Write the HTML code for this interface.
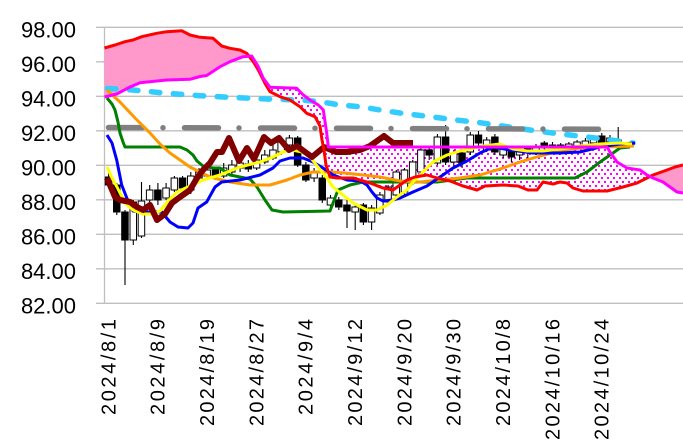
<!DOCTYPE html>
<html><head><meta charset="utf-8"><style>html,body{margin:0;padding:0;background:#fff;}svg{display:block;}</style></head>
<body>
<svg width="683" height="444" viewBox="0 0 683 444" xmlns="http://www.w3.org/2000/svg">
<defs>
<pattern id="dots" width="6" height="8" patternUnits="userSpaceOnUse"><rect width="6" height="8" fill="#fff"/><rect x="1" y="1" width="2" height="2" fill="#ff00ff"/><rect x="4" y="5" width="2" height="2" fill="#ff00ff"/></pattern>
<clipPath id="cpPink"><rect x="104" y="0" width="145" height="444"/><rect x="650" y="0" width="40" height="444"/></clipPath>
<clipPath id="cpDot"><rect x="249" y="0" width="401" height="444"/></clipPath>
</defs>
<rect width="683" height="444" fill="#fff"/>
<!-- gridlines -->
<g stroke="#bfbfbf" stroke-width="1.3">
<line x1="96" y1="27.3" x2="683" y2="27.3"/>
<line x1="96" y1="61.8" x2="683" y2="61.8"/>
<line x1="96" y1="96.3" x2="683" y2="96.3"/>
<line x1="96" y1="130.8" x2="683" y2="130.8"/>
<line x1="96" y1="165.3" x2="683" y2="165.3"/>
<line x1="96" y1="199.8" x2="683" y2="199.8"/>
<line x1="96" y1="234.3" x2="683" y2="234.3"/>
<line x1="96" y1="268.8" x2="683" y2="268.8"/>
<line x1="96" y1="303.3" x2="683" y2="303.3"/>
<line x1="104.5" y1="27.3" x2="104.5" y2="303.3"/>
</g>
<!-- y labels -->
<g font-family="Liberation Sans, Arial, sans-serif" font-size="22" fill="#000" text-anchor="end">
<text x="76" y="37.3">98.00</text>
<text x="76" y="71.8">96.00</text>
<text x="76" y="106.3">94.00</text>
<text x="76" y="140.8">92.00</text>
<text x="76" y="175.3">90.00</text>
<text x="76" y="209.8">88.00</text>
<text x="76" y="244.3">86.00</text>
<text x="76" y="278.8">84.00</text>
<text x="76" y="313.3">82.00</text>
</g>
<!-- x labels -->
<g font-family="Liberation Sans, Arial, sans-serif" font-size="20" fill="#000" text-anchor="end">
<text transform="translate(108.2,319) rotate(-90)" y="7.2" textLength="96" lengthAdjust="spacing">2024/8/1</text>
<text transform="translate(157.5,319) rotate(-90)" y="7.2" textLength="96" lengthAdjust="spacing">2024/8/9</text>
<text transform="translate(206.8,319) rotate(-90)" y="7.2" textLength="107" lengthAdjust="spacing">2024/8/19</text>
<text transform="translate(256.2,319) rotate(-90)" y="7.2" textLength="107" lengthAdjust="spacing">2024/8/27</text>
<text transform="translate(305.5,319) rotate(-90)" y="7.2" textLength="96" lengthAdjust="spacing">2024/9/4</text>
<text transform="translate(354.8,319) rotate(-90)" y="7.2" textLength="107" lengthAdjust="spacing">2024/9/12</text>
<text transform="translate(404.1,319) rotate(-90)" y="7.2" textLength="107" lengthAdjust="spacing">2024/9/20</text>
<text transform="translate(453.4,319) rotate(-90)" y="7.2" textLength="107" lengthAdjust="spacing">2024/9/30</text>
<text transform="translate(502.8,319) rotate(-90)" y="7.2" textLength="107" lengthAdjust="spacing">2024/10/8</text>
<text transform="translate(552.1,319) rotate(-90)" y="7.2" textLength="121" lengthAdjust="spacing">2024/10/16</text>
<text transform="translate(601.4,319) rotate(-90)" y="7.2" textLength="121" lengthAdjust="spacing">2024/10/24</text>
</g>
<!-- cloud fills -->
<g>
<polygon clip-path="url(#cpPink)" fill="#ff99cc" points="104.5,48 115,45 125,41.7 133,40 141.7,36.7 156.7,33.3 166.7,31.7 181.7,30.7 190,35 200,37.3 213,38.3 221.7,46 230,48.3 240,50 246.7,53.3 253.3,61.7 258.3,70 265,83.3 270,91.7 280,96.7 290,100 300,106.7 306.7,113.3 315,116.7 320,126 322,140 324,150 326,165 330,177 337,178 353,178 370,183 383,188 393,190 400,185 407,180 415,177 427,175 437,178 450,181 463,186 477,190 485,186 503,185 518,186 528,190 537,190 543,182 553,184 560,182 567,183 573,188 583,191 607,191 623,187 637,183 643,180 653,175 667,170 675,167 683,165 683,193 677,192 670,187 663,182 653,178 647,175 640,170 627,168 617,162 610,152 607,147 480,147 340,147 328.3,147 326.7,133 323.3,110 318.3,105 310,100 303.3,95 296.7,88.3 270,87.3 263.3,78.3 258.3,66.7 251.7,56 243,56.7 230,61.7 220,66.7 206.7,75.5 200,76.5 190,79.3 166.7,80 140,82.7 130,87 116.7,94 104.5,97"/>
<polygon clip-path="url(#cpDot)" fill="url(#dots)" points="104.5,48 115,45 125,41.7 133,40 141.7,36.7 156.7,33.3 166.7,31.7 181.7,30.7 190,35 200,37.3 213,38.3 221.7,46 230,48.3 240,50 246.7,53.3 253.3,61.7 258.3,70 265,83.3 270,91.7 280,96.7 290,100 300,106.7 306.7,113.3 315,116.7 320,126 322,140 324,150 326,165 330,177 337,178 353,178 370,183 383,188 393,190 400,185 407,180 415,177 427,175 437,178 450,181 463,186 477,190 485,186 503,185 518,186 528,190 537,190 543,182 553,184 560,182 567,183 573,188 583,191 607,191 623,187 637,183 643,180 653,175 667,170 675,167 683,165 683,193 677,192 670,187 663,182 653,178 647,175 640,170 627,168 617,162 610,152 607,147 480,147 340,147 328.3,147 326.7,133 323.3,110 318.3,105 310,100 303.3,95 296.7,88.3 270,87.3 263.3,78.3 258.3,66.7 251.7,56 243,56.7 230,61.7 220,66.7 206.7,75.5 200,76.5 190,79.3 166.7,80 140,82.7 130,87 116.7,94 104.5,97"/>
</g>
<!-- candle wicks -->
<path fill="none" stroke="#000" stroke-width="1.1" d="M108.6 173V188M116.8 183V215M125 210V285M133.3 200V245M141.5 182V238M149.7 185V203M157.9 183V205M166.1 183V200M174.4 176V192M182.6 176V190M190.8 172V194M199 168V180M207.2 166V178M215.5 167V180M223.7 163V178M231.9 160V175M240.1 158V172M248.3 160V172M256.6 156V170M264.8 150V164M273 144V160M281.2 138V155M289.4 135V148M297.7 136V167M305.9 162V182M314.1 168V182M322.3 175V203M330.5 195V208M338.8 197V210M347 200V228M355.2 204V230M363.4 203V225M371.6 205V230M379.9 192V215M388.1 185V205M396.3 170V200M404.5 168V195M412.7 160V185M420.9 148V175M429.2 146V160M437.4 134V165M445.6 125V165M453.8 150V168M462.1 150V168M470.3 132V155M478.5 131V148M486.7 137V152M494.9 134V155M503.2 145V158M511.4 148V162M519.6 148V160M527.8 146V158M536 144V155M544.3 141V150M552.5 142V152M560.7 143V150M568.9 142V150M577.1 140V148M585.4 138V148M593.6 136V146M601.8 133V146M610 135V145M618.2 127V150"/>
<!-- candle bodies -->
<g stroke="#000" stroke-width="1">
<rect x="105.3" y="177" width="6.5" height="8" fill="#000"/>
<rect x="113.5" y="185" width="6.5" height="27" fill="#000"/>
<rect x="121.7" y="212" width="6.5" height="28" fill="#000"/>
<rect x="130" y="202" width="6.5" height="38" fill="#fff"/>
<rect x="138.2" y="201" width="6.5" height="35" fill="#fff"/>
<rect x="146.4" y="190" width="6.5" height="10" fill="#fff"/>
<rect x="154.6" y="190" width="6.5" height="10" fill="#000"/>
<rect x="162.8" y="188" width="6.5" height="10" fill="#fff"/>
<rect x="171.1" y="178" width="6.5" height="12" fill="#fff"/>
<rect x="179.3" y="178" width="6.5" height="10" fill="#000"/>
<rect x="187.5" y="176" width="6.5" height="14" fill="#fff"/>
<rect x="195.7" y="172" width="6.5" height="6" fill="#fff"/>
<rect x="203.9" y="170" width="6.5" height="6" fill="#fff"/>
<rect x="212.2" y="170" width="6.5" height="6" fill="#000"/>
<rect x="220.4" y="168" width="6.5" height="8" fill="#fff"/>
<rect x="228.6" y="165" width="6.5" height="7" fill="#fff"/>
<rect x="236.8" y="163" width="6.5" height="5" fill="#fff"/>
<rect x="245" y="164" width="6.5" height="5" fill="#000"/>
<rect x="253.3" y="160" width="6.5" height="8" fill="#fff"/>
<rect x="261.5" y="155" width="6.5" height="7" fill="#fff"/>
<rect x="269.7" y="150" width="6.5" height="8" fill="#fff"/>
<rect x="277.9" y="142" width="6.5" height="10" fill="#fff"/>
<rect x="286.1" y="138" width="6.5" height="7" fill="#fff"/>
<rect x="294.4" y="138" width="6.5" height="27" fill="#000"/>
<rect x="302.6" y="165" width="6.5" height="15" fill="#000"/>
<rect x="310.8" y="172" width="6.5" height="6" fill="#fff"/>
<rect x="319" y="178" width="6.5" height="22" fill="#000"/>
<rect x="327.2" y="198" width="6.5" height="7" fill="#fff"/>
<rect x="335.5" y="200" width="6.5" height="7" fill="#000"/>
<rect x="343.7" y="205" width="6.5" height="6" fill="#000"/>
<rect x="351.9" y="207" width="6.5" height="5" fill="#fff"/>
<rect x="360.1" y="205" width="6.5" height="17" fill="#000"/>
<rect x="368.3" y="208" width="6.5" height="14" fill="#fff"/>
<rect x="376.6" y="195" width="6.5" height="18" fill="#fff"/>
<rect x="384.8" y="187" width="6.5" height="15" fill="#fff"/>
<rect x="393" y="172" width="6.5" height="23" fill="#fff"/>
<rect x="401.2" y="170" width="6.5" height="22" fill="#fff"/>
<rect x="409.4" y="162" width="6.5" height="20" fill="#fff"/>
<rect x="417.6" y="150" width="6.5" height="22" fill="#fff"/>
<rect x="425.9" y="150" width="6.5" height="5" fill="#000"/>
<rect x="434.1" y="137" width="6.5" height="26" fill="#fff"/>
<rect x="442.3" y="137" width="6.5" height="25" fill="#000"/>
<rect x="450.5" y="153" width="6.5" height="9" fill="#fff"/>
<rect x="458.8" y="153" width="6.5" height="10" fill="#000"/>
<rect x="467" y="135" width="6.5" height="17" fill="#fff"/>
<rect x="475.2" y="135" width="6.5" height="8" fill="#000"/>
<rect x="483.4" y="140" width="6.5" height="10" fill="#fff"/>
<rect x="491.6" y="137" width="6.5" height="15" fill="#000"/>
<rect x="499.9" y="147" width="6.5" height="8" fill="#fff"/>
<rect x="508.1" y="150" width="6.5" height="7" fill="#000"/>
<rect x="516.3" y="150" width="6.5" height="5" fill="#fff"/>
<rect x="524.5" y="149" width="6.5" height="3" fill="#fff"/>
<rect x="532.7" y="147" width="6.5" height="3" fill="#fff"/>
<rect x="541" y="143" width="6.5" height="4" fill="#000"/>
<rect x="549.2" y="145" width="6.5" height="3" fill="#fff"/>
<rect x="557.4" y="145" width="6.5" height="3" fill="#fff"/>
<rect x="565.6" y="144" width="6.5" height="3" fill="#fff"/>
<rect x="573.8" y="142" width="6.5" height="4" fill="#fff"/>
<rect x="582.1" y="141" width="6.5" height="4" fill="#fff"/>
<rect x="590.3" y="139" width="6.5" height="4" fill="#fff"/>
<rect x="598.5" y="136" width="6.5" height="7" fill="#000"/>
<rect x="606.7" y="138" width="6.5" height="4" fill="#fff"/>
<rect x="614.9" y="140" width="6.5" height="2" fill="#000"/>
</g>
<!-- lines -->
<g fill="none" stroke-linejoin="round">
<path stroke="#33ccff" stroke-width="5.5" stroke-linecap="round" stroke-dasharray="8.5 13.5" d="M107.5 88.4L133 90L167 93.3L200 95.7L230 97.3L267 99L300 100L320 101.7L340 105L360 106.7L380 110L400 113L433 117L450 119.3L480 122.7L500 125.7L530 130L550 132.7L570 135L590 137.3L633 143"/>
<path stroke="#808080" stroke-width="5.5" stroke-linecap="round" stroke-dasharray="34 20.5 0 21.5" d="M108.5 127.5L618 129.3"/>
<polyline stroke="#008000" stroke-width="3" points="107,98 112,104 115,110 118,122 120,133 123,142 125,147 150,147 180,147 187,150 193,155 197,161 203,166 213,168 220,168 230,175 250,179 257,187 265,200 272,210 283,212 330,211 338,190 350,185 363,182 380,182 413,182 437,182 467,178 575,178 587,172 600,162 613,153 620,148 630,147"/>
<polyline stroke="#ff9900" stroke-width="3" points="107,90 120,102 135,118 150,133 160,144 170,153 180,160 190,167 210,177 230,182 250,185 270,185 287,180 300,175 313,172 330,172 345,173 363,175 380,177 400,181 420,182 440,180 460,178 480,175 500,169 520,162 540,156 560,151 580,148 603,147 634,146"/>
<polyline stroke="#0000ff" stroke-width="3" points="107,135 112,143 116.7,160 121.7,185 128,201 133,211 143,212 153,212 161.7,212 170,222 178,227 188,228 193,223 198,208 206.7,202 215,187 221.7,182 240,180 260,175 273,168 280,161 290,158 303,158 313,162 323,168 333,175 347,180 360,181 367,185 372,192 377,198 383,201 393,200 400,198 413,192 427,186 440,177 453,168 467,161 480,153 493,147 510,150 533,153 560,153 580,152 600,147 620,144 635,143"/>
<polyline stroke="#ffff00" stroke-width="3" points="107,167 112,178 117,187 122,197 127,205 133,210 143,214 153,214 160,211 170,199 177,192 190,186 203,180 220,175 240,167 260,162 273,157 283,152 292,150 302,152 310,157 318,167 327,178 333,187 343,195 353,203 367,210 377,210 387,205 397,197 407,190 413,182 423,172 433,162 447,155 460,151 470,149 483,146 500,144 513,149 527,151 543,151 560,149 580,146 600,144 620,143 632,144"/>
<polyline stroke="#800000" stroke-width="6" points="107,178 115,197 120,200 130,202 137,207 143,210 150,205 157,220 165,214 172,203 180,197 190,190 197,178 203,170 210,163 217,152 222,152 229,138 239,161 247,148 254,159 264,137 271,143 279,138 289,150 297,146 312,157 324,147 336,152 347,152 360,150 370,146 384,136 393,143 413,143"/>
<polyline stroke="#ff0000" stroke-width="3" points="104.5,48 115,45 125,41.7 133,40 141.7,36.7 156.7,33.3 166.7,31.7 181.7,30.7 190,35 200,37.3 213,38.3 221.7,46 230,48.3 240,50 246.7,53.3 253.3,61.7 258.3,70 265,83.3 270,91.7 280,96.7 290,100 300,106.7 306.7,113.3 315,116.7 320,126 322,140 324,150 326,165 330,177 337,178 353,178 370,183 383,188 393,190 400,185 407,180 415,177 427,175 437,178 450,181 463,186 477,190 485,186 503,185 518,186 528,190 537,190 543,182 553,184 560,182 567,183 573,188 583,191 607,191 623,187 637,183 643,180 653,175 667,170 675,167 683,165"/>
<polyline stroke="#ff00ff" stroke-width="3" points="104.5,97 116.7,94 130,87 140,82.7 166.7,80 190,79.3 200,76.5 206.7,75.5 220,66.7 230,61.7 243,56.7 251.7,56 258.3,66.7 263.3,78.3 270,87.3 296.7,88.3 303.3,95 310,100 318.3,105 323.3,110 326.7,133 328.3,147 340,147 480,147 607,147 610,152 617,162 627,168 640,170 647,175 653,178 663,182 670,187 677,192 683,193"/>
</g>
</svg>
</body></html>
